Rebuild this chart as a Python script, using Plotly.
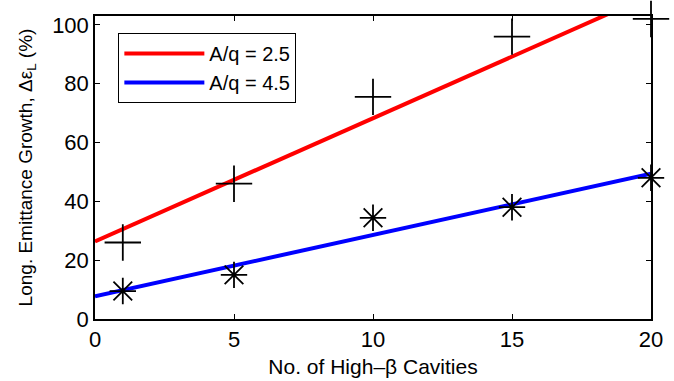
import numpy as np
import plotly.graph_objects as go

# Number of high-beta cavities
cavities = [1, 5, 10, 15, 20]
# Longitudinal emittance growth (%) for each A/q
growth_aq25 = [26, 46, 75.5, 96, 102]
growth_aq45 = [9.5, 15, 34.4, 38, 48]

labels = ["A/q = 2.5", "A/q = 4.5"]
x_ticks = [0, 5, 10, 15, 20]
y_ticks = [0, 20, 40, 60, 80, 100]

FONT = "Liberation Sans, Arial, Helvetica, sans-serif"

# Linear fits drawn across the full x range
x_fit = np.array([0, 20])
fit25 = np.polyfit(cavities, growth_aq25, 1)
fit45 = np.polyfit(cavities, growth_aq45, 1)

fig = go.Figure()
fig.add_trace(go.Scatter(x=x_fit, y=np.polyval(fit25, x_fit), mode="lines",
                         line=dict(color="#ff0000", width=4), name=labels[0]))
fig.add_trace(go.Scatter(x=x_fit, y=np.polyval(fit45, x_fit), mode="lines",
                         line=dict(color="#0000ff", width=4), name=labels[1]))
fig.add_trace(go.Scatter(x=cavities, y=growth_aq25, mode="markers", showlegend=False,
                         cliponaxis=False,
                         marker=dict(symbol="cross-thin-open", size=26, color="black",
                                     line=dict(color="black", width=1.8))))
fig.add_trace(go.Scatter(x=cavities, y=growth_aq45, mode="markers", showlegend=False,
                         cliponaxis=False,
                         marker=dict(symbol="asterisk-open", size=22, color="black",
                                     line=dict(color="black", width=1.8))))

axis_common = dict(showline=True, linecolor="black", linewidth=1.5, mirror="ticks",
                   ticks="inside", ticklen=5, tickcolor="black", tickwidth=1,
                   showgrid=False, zeroline=False, automargin=False,
                   tickfont=dict(family=FONT, size=22, color="black"))

fig.update_xaxes(range=[0, 20], tickvals=x_ticks,
                 title=dict(text="No. of High\u2013\u03b2 Cavities",
                            font=dict(family=FONT, size=21, color="black"), standoff=8),
                 **axis_common)
fig.update_yaxes(range=[0, 103], tickvals=y_ticks,
                 title=dict(text="Long. Emittance Growth, \u0394\u03b5<sub>L</sub> (%)",
                            font=dict(family=FONT, size=19, color="black"), standoff=14),
                 **axis_common)

fig.update_layout(
    width=674, height=381,
    margin=dict(l=95, r=23, t=16, b=62),
    paper_bgcolor="white", plot_bgcolor="white",
    font=dict(family=FONT, color="black"),
    legend=dict(x=0.042, y=0.944, xanchor="left", yanchor="top",
                bordercolor="black", borderwidth=1, bgcolor="white",
                font=dict(family=FONT, size=20, color="black"),
                itemwidth=80, tracegroupgap=0),
)

fig.write_html("out.html")
